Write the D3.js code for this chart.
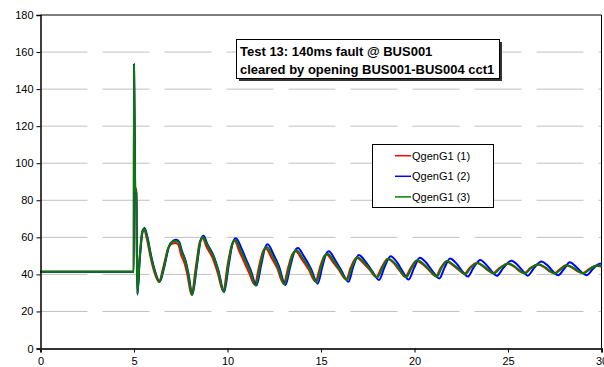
<!DOCTYPE html>
<html><head><meta charset="utf-8">
<script src="https://cdn.jsdelivr.net/npm/d3@7"></script>
<style>body{margin:0;background:#fff}svg{display:block;font-family:"Liberation Sans",Arial,sans-serif}</style>
</head><body><svg id="c" width="604" height="367"></svg>
<script>
const xTicks = [0, 5, 10, 15, 20, 25, 30];
const yTicks = [0, 20, 40, 60, 80, 100, 120, 140, 160, 180];
const seriesNames = ["QgenG1 (1)", "QgenG1 (2)", "QgenG1 (3)"];
const seriesColors = ["#ff0000", "#0000ff", "#008000"];
const titleLines = ["Test 13: 140ms fault @ BUS001", "cleared by opening BUS001-BUS004 cct1"];

const red = [[0,41.4],[4.99,41.4],[5.0,152],[5.06,87],[5.12,85.5],[5.18,30],[5.3,49],[5.45,63.5],[5.53,64.5],[5.68,59.5],[5.88,49.5],[6.08,41.5],[6.33,36],[6.57,44],[6.82,54],[7.02,56.5],[7.22,57],[7.37,56],[7.52,50.5],[7.72,45.5],[7.87,39],[8.07,29],[8.32,45],[8.52,57.5],[8.67,59.5],[8.87,55],[9.22,48.5],[9.47,41],[9.77,31],[10.02,46],[10.22,55.5],[10.38,58],[10.65,52],[10.9,46.5],[11.15,41],[11.45,34.5],[11.7,45],[11.9,52.5],[12.05,54],[12.35,49],[12.65,43.5],[13.0,35],[13.25,44],[13.45,50.5],[13.65,52.5],[13.95,48.5],[14.35,42.5],[14.7,36.2],[14.95,44],[15.15,49.5],[15.3,50.8],[15.65,46.5],[15.95,42.5],[16.35,37.3],[16.6,44],[16.9,49],[17.25,46.3],[17.6,42.5],[17.95,38.6],[18.25,44],[18.55,48.3],[18.9,46],[19.2,42],[19.5,38.7],[19.8,43.5],[20.1,47.4],[20.45,45.4],[20.8,42],[21.15,39],[21.4,43.5],[21.7,47],[22.05,45],[22.35,42.5],[22.67,40.2],[22.95,43.5],[23.33,46.1],[23.65,44.5],[23.95,42],[24.2,40.6],[24.55,43.5],[24.98,45.8],[25.35,44],[25.65,41.5],[25.85,40.6],[26.2,43.5],[26.58,45.4],[26.95,43.8],[27.25,41.5],[27.47,40.6],[27.8,43],[28.1,44.9],[28.45,43.5],[28.75,41.5],[29.0,40.7],[29.35,43],[29.7,44.7],[30.0,44.3]];

const blue = [[0,41.4],[4.99,41.4],[5.0,153.5],[5.06,86],[5.12,84],[5.18,29],[5.3,47],[5.45,62.5],[5.57,65],[5.72,60],[5.92,50],[6.12,42],[6.38,36],[6.62,44],[6.87,55],[7.07,58],[7.27,58.7],[7.42,57.5],[7.57,52.5],[7.77,47],[7.92,40],[8.12,29],[8.37,45],[8.57,58.5],[8.72,60.8],[8.92,56.5],[9.28,49.5],[9.52,42],[9.82,30.5],[10.08,46],[10.28,57],[10.45,59.5],[10.75,54],[11.0,48],[11.25,42],[11.55,34],[11.8,45],[12.0,54],[12.15,56.2],[12.45,51],[12.75,44.5],[13.1,34.2],[13.35,44],[13.57,52],[13.77,54.3],[14.07,50],[14.47,43],[14.82,35],[15.07,44],[15.27,51],[15.42,52.5],[15.77,47.5],[16.07,42.5],[16.47,36],[16.72,44],[17.02,50.5],[17.37,47],[17.72,42],[18.1,37],[18.4,44],[18.72,49.8],[19.07,46.5],[19.37,41.5],[19.68,37.2],[19.98,43.5],[20.28,49],[20.63,46.3],[20.98,41.5],[21.33,37.8],[21.6,43.5],[21.9,48.6],[22.25,45.8],[22.55,41.8],[22.85,38.8],[23.15,43.5],[23.52,47.8],[23.85,45],[24.15,41.5],[24.4,39.2],[24.75,43.5],[25.18,47.4],[25.55,44.7],[25.85,41.2],[26.05,39.3],[26.4,43.5],[26.78,47],[27.15,44.5],[27.45,41.2],[27.68,39.5],[28.0,43],[28.3,46.5],[28.65,44],[28.95,41],[29.2,39.6],[29.55,43],[29.9,45.8],[30.0,45.7]];

const green = [[0,41.4],[4.99,41.4],[5.0,153],[5.06,87],[5.12,84],[5.18,29.5],[5.3,48],[5.45,63],[5.55,64.8],[5.7,60],[5.9,50],[6.1,42],[6.36,36],[6.6,44],[6.85,54.5],[7.05,57.5],[7.25,58],[7.4,57],[7.55,52],[7.75,47],[7.9,40],[8.1,29],[8.35,45],[8.55,58],[8.7,60],[8.9,56],[9.25,49.5],[9.5,42],[9.8,30.5],[10.05,46],[10.25,56],[10.42,58.5],[10.7,53],[10.95,47.5],[11.2,42],[11.5,34],[11.75,45],[11.95,53],[12.1,54.8],[12.4,50],[12.7,44],[13.05,34.6],[13.3,44],[13.5,51],[13.7,53],[14.0,49],[14.4,43],[14.75,35.8],[15.0,44],[15.2,50],[15.35,51.3],[15.7,47],[16.0,42.5],[16.4,37],[16.65,44],[16.95,49.3],[17.3,46.5],[17.65,42.5],[18.0,38.3],[18.3,44],[18.6,48.4],[18.95,46],[19.25,42],[19.55,38.4],[19.85,43.5],[20.15,47.6],[20.5,45.5],[20.85,42],[21.2,38.8],[21.45,43.5],[21.75,47.2],[22.1,45],[22.4,42.5],[22.72,40],[23.0,43.5],[23.38,46.2],[23.7,44.5],[24.0,42],[24.25,40.5],[24.6,43.5],[25.03,45.9],[25.4,44],[25.7,41.5],[25.9,40.5],[26.25,43.5],[26.63,45.5],[27.0,43.8],[27.3,41.5],[27.52,40.5],[27.85,43],[28.15,45],[28.5,43.5],[28.8,41.5],[29.05,40.6],[29.4,43],[29.75,44.8],[30.0,44.5]];

const seriesData = [red, blue, green];

const svg = d3.select("#c");
const L = 40.5, R = 601.5, T = 15, B = 348.5;
const x = d3.scaleLinear().domain([0, 30]).range([L, R]);
const y = d3.scaleLinear().domain([0, 180]).range([B, T]);

// gridlines
svg.append("g").selectAll("line").data(yTicks.filter(d => d > 0 && d < 180)).join("line")
  .attr("x1", L).attr("x2", R).attr("y1", d => y(d)).attr("y2", d => y(d))
  .attr("stroke", "#c0c0c0").attr("stroke-width", 1).attr("stroke-dasharray", "47,15");

// plot frame
svg.append("line").attr("x1", L).attr("x2", R).attr("y1", T).attr("y2", T).attr("stroke", "#000").attr("stroke-width", 1);
svg.append("line").attr("x1", R).attr("x2", R).attr("y1", T).attr("y2", B).attr("stroke", "#000").attr("stroke-width", 1);

// lines
const line = d3.line().x(d => x(d[0])).y(d => y(d[1])).curve(d3.curveMonotoneX);
svg.append("g").selectAll("path").data(seriesData).join("path")
  .attr("d", line).attr("fill", "none")
  .attr("stroke", (d, i) => seriesColors[i]).attr("stroke-width", 2).attr("stroke-linejoin", "round");

// axes
const yAxis = svg.append("g").attr("transform", `translate(${L},0)`)
  .call(d3.axisLeft(y).tickValues(yTicks).tickSize(4).tickPadding(3));
yAxis.select(".domain").attr("stroke", "#000").attr("stroke-width", 1.5);
yAxis.selectAll("text").attr("font-size", 11).attr("fill", "#000").attr("font-family", "Liberation Sans, Arial, sans-serif");

const xAxis = svg.append("g").attr("transform", `translate(0,${B})`)
  .call(d3.axisBottom(x).tickValues(xTicks).tickSize(4).tickPadding(5));
xAxis.select(".domain").attr("stroke", "#333").attr("stroke-width", 2);
xAxis.selectAll("text").attr("font-size", 11).attr("fill", "#000").attr("font-family", "Liberation Sans, Arial, sans-serif");

// title box
const tb = svg.append("g");
tb.append("rect").attr("x", 239).attr("y", 42).attr("width", 263).attr("height", 39).attr("fill", "#333");
tb.append("rect").attr("x", 236.5).attr("y", 39.5).attr("width", 263).attr("height", 39).attr("fill", "#fff").attr("stroke", "#000").attr("stroke-width", 1);
tb.selectAll("text").data(titleLines).join("text")
  .attr("x", 240).attr("y", (d, i) => 56 + i * 17.5)
  .attr("font-size", 13).attr("font-weight", "bold").attr("fill", "#000").text(d => d);

// legend
const lg = svg.append("g");
lg.append("rect").attr("x", 372.5).attr("y", 144.5).attr("width", 121).attr("height", 63).attr("fill", "#fff").attr("stroke", "#000").attr("stroke-width", 1);
const items = lg.selectAll("g.it").data(seriesNames).join("g").attr("class", "it")
  .attr("transform", (d, i) => `translate(0,${155.7 + i * 20.6})`);
items.append("line").attr("x1", 395).attr("x2", 411).attr("y1", 0).attr("y2", 0)
  .attr("stroke", (d, i) => seriesColors[i]).attr("stroke-width", 1.5);
items.append("text").attr("x", 412).attr("y", 4).attr("font-size", 11).attr("fill", "#000").text(d => d);
</script></body></html>
